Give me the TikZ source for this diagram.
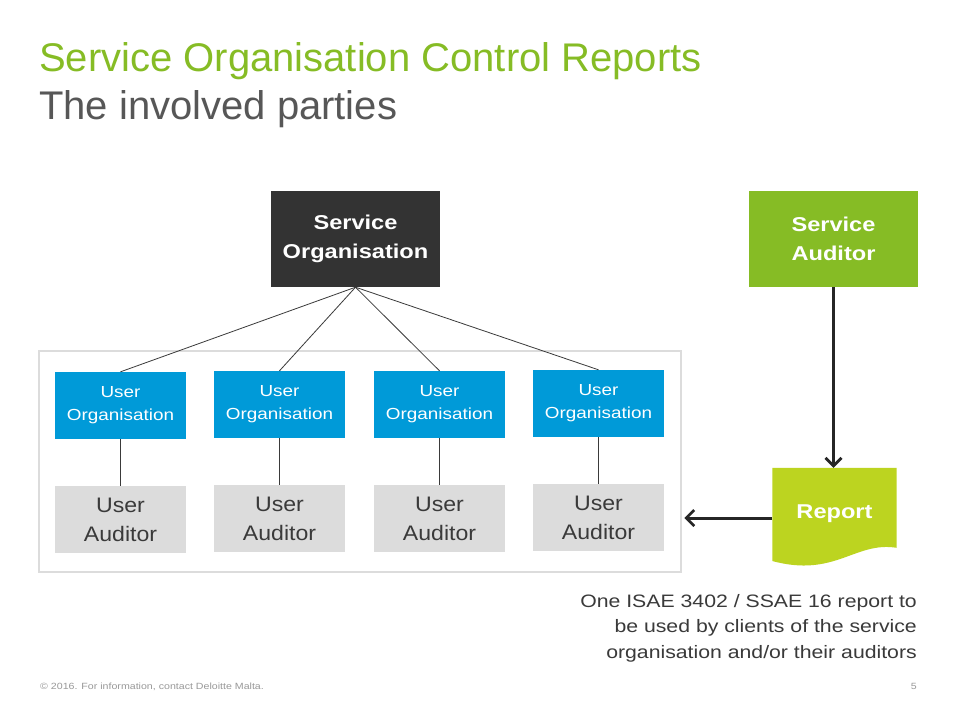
\documentclass[tikz,border=0pt]{standalone}
\usepackage{fontspec}
\setmainfont{Liberation Sans}
\newfontfamily\widefont[FakeStretch=1.18]{Liberation Sans}
\newfontfamily\halfwidefont[FakeStretch=1.1]{Liberation Sans}
\usepackage{xcolor}
\usetikzlibrary{positioning,arrows.meta}
\definecolor{dlgreen}{HTML}{86BC25}
\definecolor{dlblue}{HTML}{009AD8}
\definecolor{dldark}{HTML}{333333}
\definecolor{dlgray}{HTML}{DCDCDC}
\definecolor{dltext}{HTML}{3A3A3A}
\definecolor{dlreport}{HTML}{BCD420}
\newcommand{\fs}[2]{\fontsize{#1}{#2}\selectfont}

\begin{document}
\begin{tikzpicture}[
	x=1pt, y=-1pt,
	every node/.style={inner sep=0pt},
	sobox/.style={fill=dldark, text=white, font=\widefont\fs{20}{29}\bfseries, align=center, minimum width=169pt, minimum height=96pt},
	aubox/.style={sobox, fill=dlgreen},
	uobox/.style={fill=dlblue, text=white, font=\widefont\fs{16}{23}, align=center, minimum width=131pt, minimum height=67pt},
	uabox/.style={fill=dlgray, text=dltext, font=\halfwidefont\fs{21}{29}, align=center, minimum width=131pt, minimum height=67pt},
	users/.style={draw=dlgray, line width=2.5pt, minimum width=642pt, minimum height=221pt},
	link/.style={draw=dltext, line width=0.8pt},
	arrow/.style={-{Straight Barb[length=8pt,width=16pt,line width=2.8pt]}, draw=black!85, line width=3pt}
	]
	
	\fill[white] (0,0) rectangle (960,720);
	\useasboundingbox (0,0) rectangle (960,720);
	
	% title
	\node[anchor=base west, text=dlgreen, font=\fs{40}{44}] (title) at (39,71) {Service Organisation Control Reports};
	\node[anchor=base west, text=dltext!85, font=\fs{40}{44}] (subtitle) at (39,119) {The involved parties};
	
	\node[users] (users) at (360,461.5) {};
	
	\node[sobox] (so) at (355.5,239) {Service\\Organisation};
	\node[aubox] (sa) at (833.5,239) {Service\\Auditor};
	
	\foreach \i/\x/\y in {1/120.5/405.5, 2/279.5/404.5, 3/439.5/404.5, 4/598.5/403.5} {
		\node[uobox] (uo\i) at (\x,\y) {User\\Organisation};
		\node[uabox] (ua\i) at (\x,\y+114) {User\\Auditor};
		\draw[link] (uo\i) -- (ua\i);
		\draw[link] (so.south) -- (uo\i.north);
	}
	
	% report sheet
	\node[minimum width=124pt, minimum height=100pt] (report) at (834.5,518) {};
	\fill[dlreport] (report.north west) -- (report.north east) -- ++(0,80)
		.. controls (855,541) and (835,578) .. (report.north west |- 0,561) -- cycle;
	\node[text=white, font=\widefont\fs{20}{24}\bfseries] at (834.5,514) {Report};
	
	\draw[arrow] (sa.south) -- (sa.south |- report.north);
	\draw[arrow] (report.west) -- ([xshift=2pt]users.east |- report.west);
	
	\node[anchor=north east, align=right, text=dltext, font=\widefont\fs{18}{25.5}] (note) at (917,594)
		{One ISAE 3402 / SSAE 16 report to\\be used by clients of the service\\organisation and/or their auditors};
	
	% footer
	\node[anchor=base west, text=black!40, font=\widefont\fs{9}{10}] (foot) at (40,689) {\textcopyright{} 2016. For information, contact Deloitte Malta.};
	\node[anchor=base east, text=black!40, font=\widefont\fs{9}{10}] (page) at (917,689) {5};
	
\end{tikzpicture}
\end{document}
